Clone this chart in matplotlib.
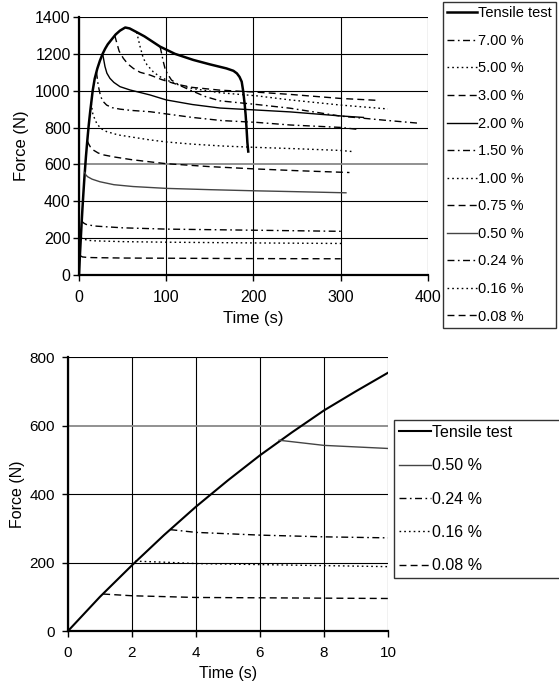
import matplotlib
matplotlib.use("Agg")
import matplotlib.pyplot as plt

plt.rcParams["font.family"] = ["Liberation Sans", "DejaVu Sans"]

# tensile test (time in s, force in N)
tensile_t = [0, 1, 2, 3, 4, 5, 6, 7, 8, 9, 10, 11, 12, 13, 14, 15.7, 18, 21, 24,
             27.1, 30, 33, 37.4, 42, 47, 53, 58, 66, 75, 93, 110, 131, 150, 169,
             177, 181, 184, 186.5, 188.3, 190, 191, 192, 193, 194]
tensile_f = [0, 100, 192, 280, 363, 440, 513, 580, 644, 700, 754, 805, 850, 893, 932,
             1000, 1065, 1120, 1163, 1200, 1228, 1252, 1278, 1305, 1326, 1343, 1338,
             1318, 1295, 1239, 1200, 1167, 1143, 1121, 1108, 1094, 1075, 1049, 995,
             922, 870, 800, 720, 670]

# relaxation tests at different strain levels
t_700 = [93, 95, 96.5, 98.6, 101, 106, 115, 127, 145, 161.6, 204, 242, 300, 350, 391]
f_700 = [1239, 1195, 1160, 1121, 1095, 1058, 1030, 1004, 968, 945, 925, 905, 862, 840, 823]

t_500 = [66, 68, 70, 73.7, 78, 85, 92, 100.5, 112, 130, 161.6, 204, 242, 300, 354]
f_500 = [1318, 1280, 1240, 1176, 1140, 1103, 1078, 1058, 1035, 1012, 989, 972, 950, 922, 901]

t_300 = [41, 43, 46, 50.8, 56, 62.3, 70, 81.4, 95, 112, 130, 161.6, 204, 242, 300, 341]
f_300 = [1300, 1265, 1215, 1176, 1145, 1121, 1100, 1085, 1060, 1035, 1018, 1003, 992, 980, 958, 948]

t_200 = [27.1, 28.5, 29.8, 32, 35.5, 40, 47, 58.5, 81.4, 100, 130, 161.6, 204, 242, 300, 326]
f_200 = [1200, 1165, 1131, 1095, 1067, 1045, 1022, 1004, 977, 950, 925, 906, 895, 885, 863, 855]

t_150 = [20, 22, 24.8, 28, 31.7, 38, 47, 60, 81.4, 98.6, 130, 163.5, 204, 242, 299, 320]
f_150 = [1102, 1030, 968, 940, 922, 908, 900, 893, 886, 875, 855, 838, 828, 814, 801, 790]

t_100 = [14, 16, 20.3, 25, 31.7, 45, 58.5, 81.4, 100, 130, 164, 200, 250, 299, 313]
f_100 = [932, 870, 823, 795, 778, 760, 750, 733, 722, 710, 700, 693, 685, 676, 670]

t_075 = [9.5, 11, 13, 16.4, 22, 27.8, 41, 60, 81.4, 100, 150, 200, 250, 310]
f_075 = [727, 712, 695, 678, 662, 652, 640, 626, 614, 604, 588, 576, 566, 556]

t_050 = [6.6, 8, 10, 15, 24, 40, 62, 100, 150, 200, 250, 306]
f_050 = [557, 542, 533, 520, 506, 490, 480, 470, 463, 457, 452, 446]

t_024 = [3.2, 4, 6, 8, 10, 20, 50, 100, 200, 300]
f_024 = [296, 288, 280, 275, 272, 265, 256, 249, 243, 237]

t_016 = [2.1, 3, 4, 6, 8, 10, 20, 50, 100, 200, 302]
f_016 = [204, 201, 197, 194, 191, 188, 185, 181, 178, 174, 171]

t_008 = [1.1, 2, 4, 6, 8, 10, 20, 50, 100, 200, 300]
f_008 = [108, 103, 98, 97, 96, 95, 94, 92, 91, 89, 88]

dash = (0, (5, 3))
dot = (0, (1.2, 2.2))
dashdot = (0, (5, 2.5, 1.2, 2.5))

# label, t, f, linestyle, color
relax = [
    ("7.00 %", t_700, f_700, dashdot, "black"),
    ("5.00 %", t_500, f_500, dot, "black"),
    ("3.00 %", t_300, f_300, dash, "black"),
    ("2.00 %", t_200, f_200, "-", "black"),
    ("1.50 %", t_150, f_150, dashdot, "black"),
    ("1.00 %", t_100, f_100, dot, "black"),
    ("0.75 %", t_075, f_075, dash, "black"),
    ("0.50 %", t_050, f_050, "-", "#444444"),
    ("0.24 %", t_024, f_024, dashdot, "black"),
    ("0.16 %", t_016, f_016, dot, "black"),
    ("0.08 %", t_008, f_008, dash, "black"),
]
zoomed = ["0.50 %", "0.24 %", "0.16 %", "0.08 %"]


def style_axes(ax, fs, ypad):
    ax.grid(True, color="black", linewidth=0.8)
    ax.set_axisbelow(True)
    for gl, v in zip(ax.get_ygridlines(), ax.get_yticks()):
        if v == 600:
            gl.set_color("#888888")
            gl.set_linewidth(1.3)
    for s in ["top", "right"]:
        ax.spines[s].set_visible(False)
    for s in ["left", "bottom"]:
        ax.spines[s].set_linewidth(1.6)
    ax.tick_params(axis="x", direction="out", length=4, width=1, pad=7, labelsize=fs)
    ax.tick_params(axis="y", direction="out", length=4, width=1, pad=ypad, labelsize=fs)


fig = plt.figure(figsize=(5.59, 6.88), dpi=100)

# top chart
ax1 = fig.add_axes([0.1413, 0.6003, 0.6243, 0.375])
ax1.plot(tensile_t, tensile_f, color="black", linewidth=1.8, label="Tensile test")
for lab, t, f, ls, c in relax:
    ax1.plot(t, f, linestyle=ls, color=c, linewidth=1.0, label=lab)
ax1.set_xlim(0, 400)
ax1.set_ylim(0, 1400)
ax1.set_xticks(range(0, 401, 100))
ax1.set_yticks(range(0, 1401, 200))
style_axes(ax1, 11.5, 2)
ax1.set_xlabel("Time (s)", fontsize=12, labelpad=4)
ax1.set_ylabel("Force (N)", fontsize=12, labelpad=4)
leg1 = ax1.legend(loc="upper left", bbox_to_anchor=(443 / 559, 686 / 688),
                  bbox_transform=fig.transFigure, fontsize=10.5, frameon=True,
                  fancybox=False, edgecolor="black", handlelength=2.0,
                  handletextpad=0.1, labelspacing=0.93, borderpad=0.3,
                  borderaxespad=0)
leg1.get_frame().set_linewidth(1.0)

# bottom chart (first 10 s)
ax2 = fig.add_axes([0.1216, 0.0828, 0.5724, 0.3983])
ax2.plot(tensile_t, tensile_f, color="black", linewidth=1.5, label="Tensile test")
for lab, t, f, ls, c in relax:
    if lab in zoomed:
        ax2.plot(t, f, linestyle=ls, color=c, linewidth=1.0, label=lab)
ax2.set_xlim(0, 10)
ax2.set_ylim(0, 800)
ax2.set_xticks(range(0, 11, 2))
ax2.set_yticks(range(0, 801, 200))
style_axes(ax2, 11, 5.5)
ax2.set_xlabel("Time (s)", fontsize=11.5, labelpad=4)
ax2.set_ylabel("Force (N)", fontsize=11.5, labelpad=3)
leg2 = ax2.legend(loc="upper left", mode="expand",
                  bbox_to_anchor=(394 / 559, (688 - 420) / 688, 180 / 559, 0),
                  bbox_transform=fig.transFigure, fontsize=11.5, frameon=True,
                  fancybox=False, edgecolor="black", handlelength=2.0,
                  handletextpad=0.1, labelspacing=1.15, borderpad=0.3,
                  borderaxespad=0)
leg2.get_frame().set_linewidth(1.0)

fig.savefig("out.png", dpi=100)
